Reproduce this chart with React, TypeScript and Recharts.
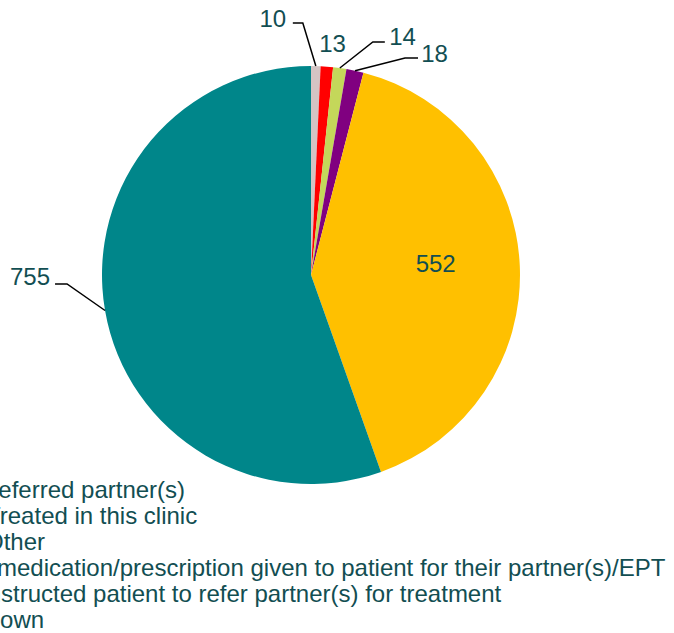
import React from "react";
import { PieChart, Pie, Cell, Legend } from "recharts";

const categories = [
  "Unknown",
  "Other",
  "Treated in this clinic",
  "Medication/prescription given to patient for their partner(s)/EPT",
  "Instructed patient to refer partner(s) for treatment",
  "Referred partner(s)",
];
const values = [10, 13, 14, 18, 552, 755];
const colors = ["#D4C4C4", "#FF0000", "#C4D75A", "#800080", "#FFC000", "#00868A"];

const legendLabels = [
  "Referred partner(s)",
  "Treated in this clinic",
  "Other",
  "medication/prescription given to patient for their partner(s)/EPT",
  "Instructed patient to refer partner(s) for treatment",
  "Unknown",
];
const legendShift = [-19, -14, -15, -3, -19, -56];

const data = categories.map((name, i) => ({ name, value: values[i] }));

const TEXT = "#124E52";
const FONT = "'Liberation Sans', Arial, sans-serif";
const FS = 24;
const RAD = Math.PI / 180;

// label layout offsets relative to each slice's outer edge point
type LL = { elbow?: [number, number]; end?: [number, number]; text: [number, number]; inside?: boolean };
const labelLayout: LL[] = [
  { elbow: [-13, -43], end: [-23, -43], text: [-43, -48] },
  { text: [5.6, -23] },
  { elbow: [33, -26], end: [45, -26], text: [62.7, -31.5] },
  { elbow: [50, -12.7], end: [63, -12.7], text: [79.5, -17.2] },
  { inside: true, text: [0, -6] },
  { elbow: [-38, -26.6], end: [-50, -26.6], text: [-75, -34] },
];

const renderLabel = (props: any) => {
  const { cx, cy, midAngle, outerRadius, index, value } = props;
  const L = labelLayout[index];
  const cos = Math.cos(-midAngle * RAD);
  const sin = Math.sin(-midAngle * RAD);
  if (L.inside) {
    const r = outerRadius * 0.597;
    const x = cx + r * cos + L.text[0];
    const y = cy + r * sin + L.text[1];
    return (
      <text x={x} y={y + FS * 0.358} textAnchor="middle" fill={TEXT} fontSize={FS} fontFamily={FONT}>
        {value}
      </text>
    );
  }
  const ex = cx + outerRadius * cos;
  const ey = cy + outerRadius * sin;
  return (
    <g>
      {L.elbow && L.end && (
        <polyline
          points={`${ex},${ey} ${ex + L.elbow[0]},${ey + L.elbow[1]} ${ex + L.end[0]},${ey + L.end[1]}`}
          fill="none"
          stroke="#000"
          strokeWidth={1.5}
        />
      )}
      <text
        x={ex + L.text[0]}
        y={ey + L.text[1] + FS * 0.358}
        textAnchor="middle"
        fill={TEXT}
        fontSize={FS}
        fontFamily={FONT}
      >
        {value}
      </text>
    </g>
  );
};

const renderLegend = () => (
  <div style={{ fontFamily: FONT, fontSize: FS, lineHeight: "26px", color: TEXT, whiteSpace: "nowrap" }}>
    {legendLabels.map((t, i) => (
      <div key={i} style={{ marginLeft: legendShift[i] }}>
        {t}
      </div>
    ))}
  </div>
);

export default function App() {
  return (
    <div style={{ position: "absolute", left: 0, top: 0, width: 674, height: 633, overflow: "hidden", background: "#fff" }}>
      <PieChart width={674} height={633} margin={{ top: 0, right: 0, bottom: 0, left: 0 }}>
        <Pie
          data={data}
          dataKey="value"
          nameKey="name"
          cx={311}
          cy={275}
          outerRadius={209}
          startAngle={90}
          endAngle={-270}
          stroke="none"
          label={renderLabel}
          labelLine={false}
          isAnimationActive={false}
        >
          {data.map((d, i) => (
            <Cell key={d.name} fill={colors[i]} />
          ))}
        </Pie>
        <Legend
          content={renderLegend}
          wrapperStyle={{ position: "absolute", left: 0, top: 477, width: 674, bottom: "auto" }}
        />
      </PieChart>
    </div>
  );
}
